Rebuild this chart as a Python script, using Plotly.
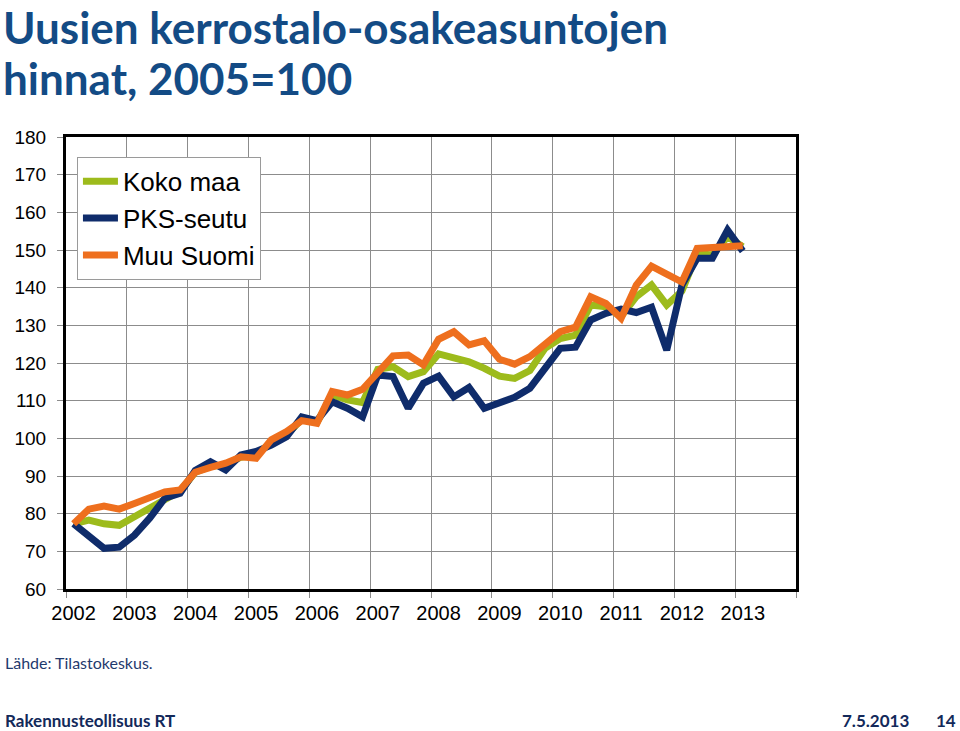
import plotly.graph_objects as go

years = ["2002", "2003", "2004", "2005", "2006", "2007", "2008", "2009", "2010", "2011", "2012", "2013"]

koko_maa = [77.3, 78.3, 77.3, 76.9, 79.2, 81.4, 84.1, 86.0, 91.0, 92.5, 93.0, 95.0,
            95.5, 99.0, 101.0, 105.0, 104.2, 111.5, 110.2, 109.5, 118.3, 119.0, 116.4, 117.7,
            122.4, 121.5, 120.3, 118.6, 116.5, 115.9, 118.0, 123.9, 126.5, 127.4, 135.4, 134.9,
            132.3, 137.6, 140.7, 135.4, 139.1, 149.1, 148.7, 153.5, 150.9]
pks_seutu = [77.3, 73.9, 70.8, 71.1, 74.3, 78.8, 84.1, 85.4, 91.5, 93.8, 91.6, 95.6,
             96.5, 98.2, 100.4, 105.7, 104.7, 109.7, 108.0, 105.7, 116.8, 116.4, 108.0, 114.6,
             116.5, 111.0, 113.5, 108.0, 109.3, 110.9, 113.3, 119.0, 123.9, 124.2, 131.4, 133.2,
             134.3, 133.4, 134.8, 123.4, 140.7, 147.8, 147.8, 155.3, 149.7]
muu_suomi = [77.3, 81.2, 82.0, 81.2, 82.7, 84.5, 85.8, 86.3, 91.0, 92.3, 93.4, 95.1,
             94.7, 99.6, 101.8, 104.7, 104.0, 112.4, 111.5, 113.0, 117.4, 121.9, 122.1, 119.5,
             126.3, 128.3, 124.8, 125.9, 121.0, 119.7, 121.7, 125.2, 128.3, 129.5, 137.6, 135.8,
             131.9, 140.7, 145.7, 143.6, 141.5, 150.4, 150.6, 151.0, 151.1]

series = [
    ("Koko maa", koko_maa, "#9DBB1C"),
    ("PKS-seutu", pks_seutu, "#0F2C6B"),
    ("Muu Suomi", muu_suomi, "#EE6F1E"),
]

quarters_per_year = 4
n_cat = len(years) * quarters_per_year

fig = go.Figure()
for name, vals, col in series:
    fig.add_trace(go.Scatter(
        x=list(range(len(vals))), y=vals, name=name, mode="lines",
        line=dict(color=col, width=7),
    ))

# invisible trace to bind the label axis
fig.add_trace(go.Scatter(x=[0], y=[60], xaxis="x2", mode="markers",
                         marker=dict(opacity=0), showlegend=False, hoverinfo="skip"))

grid_vals = [i * quarters_per_year - 0.5 for i in range(len(years) + 1)]
label_vals = [i * quarters_per_year for i in range(len(years))]

fig.update_layout(
    width=960, height=731,
    margin=dict(l=66, r=164, t=137, b=142),
    paper_bgcolor="white", plot_bgcolor="white",
    showlegend=True,
    legend=dict(
        x=0.015, y=0.956, xanchor="left", yanchor="top",
        bgcolor="white", bordercolor="#9a9a9a", borderwidth=1,
        font=dict(family="Liberation Sans, Arial", size=26, color="black"),
        itemwidth=35,
    ),
    xaxis=dict(
        range=[-0.5, n_cat - 0.5], tickmode="array", tickvals=grid_vals,
        showticklabels=False, showgrid=True, gridcolor="#8c8c8c", gridwidth=1,
        ticks="outside", ticklen=6, tickcolor="#8c8c8c", automargin=False,
        showline=True, linecolor="black", linewidth=3, mirror=True, zeroline=False,
    ),
    xaxis2=dict(
        overlaying="x", matches="x", side="bottom", automargin=False,
        tickmode="array", tickvals=label_vals, ticktext=years,
        showgrid=False, showline=False, ticks="", zeroline=False,
        tickfont=dict(family="Liberation Sans, Arial", size=20, color="black"),
        ticklabelstandoff=10,
    ),
    yaxis=dict(
        range=[60, 180], dtick=10, tick0=60, automargin=False,
        showgrid=True, gridcolor="#8c8c8c", gridwidth=1,
        ticks="outside", ticklen=6, tickcolor="#8c8c8c",
        showline=True, linecolor="black", linewidth=3, mirror=True, zeroline=False,
        tickfont=dict(family="Liberation Sans, Arial", size=19, color="black"),
        ticklabelstandoff=7,
    ),
    font=dict(family="Liberation Sans, Arial"),
)

title_font = dict(family="Lato", size=44, color="#134B85")
fig.add_annotation(text="<b>Uusien kerrostalo-osakeasuntojen</b>", xref="paper", yref="paper",
                   x=-65/730, y=(589+1)/452, xanchor="left", yanchor="top",
                   showarrow=False, font=title_font)
fig.add_annotation(text="<b>hinnat, 2005=100</b>", xref="paper", yref="paper",
                   x=-65/730, y=(589-50)/452, xanchor="left", yanchor="top",
                   showarrow=False, font=title_font)

fig.add_annotation(text="Lähde: Tilastokeskus.", xref="paper", yref="paper",
                   x=-63/730, y=(589-662)/452, xanchor="left", yanchor="middle",
                   showarrow=False, font=dict(family="Lato", size=16, color="#1F3A6E"))
foot_font = dict(family="Lato", size=17, color="#13295A")
fig.add_annotation(text="<b>Rakennusteollisuus RT</b>", xref="paper", yref="paper",
                   x=-63/730, y=(589-720)/452, xanchor="left", yanchor="middle",
                   showarrow=False, font=foot_font)
fig.add_annotation(text="<b>7.5.2013</b>", xref="paper", yref="paper",
                   x=(840-66)/730, y=(589-720)/452, xanchor="left", yanchor="middle",
                   showarrow=False, font=foot_font)
fig.add_annotation(text="<b>14</b>", xref="paper", yref="paper",
                   x=(958-66)/730, y=(589-720)/452, xanchor="right", yanchor="middle",
                   showarrow=False, font=foot_font)

fig.write_html("out.html", config={"displayModeBar": False},
               post_script="document.body.style.margin='0';document.body.style.overflow='hidden';")
